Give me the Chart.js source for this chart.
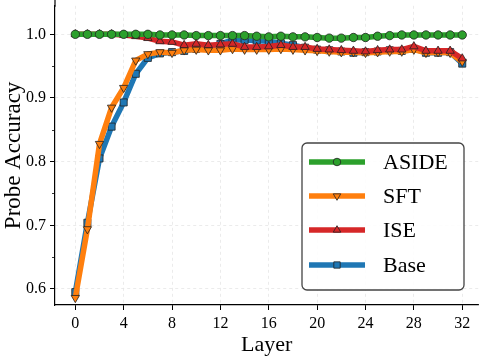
<!DOCTYPE html>
<html>
<head>
<meta charset="utf-8">
<script src="https://cdn.jsdelivr.net/npm/chart.js@4.4.1/dist/chart.umd.min.js"></script>
<style>
  html, body { margin: 0; padding: 0; background: #fff; }
  #wrap { width: 484px; height: 358px; }
</style>
</head>
<body>
<div id="wrap"><canvas id="probeChart"></canvas></div>
<script>
// Layers 0..32
var layers = [];
for (var i = 0; i <= 32; i++) layers.push(i);

var aside = [1.000, 1.000, 1.000, 1.000, 1.000, 1.000, 1.000, 0.999, 0.999, 0.999,
  0.998, 0.998, 0.998, 0.998, 0.998, 0.997, 0.996, 0.997, 0.996, 0.996,
  0.995, 0.994, 0.994, 0.995, 0.995, 0.997, 0.998, 0.999, 0.999, 0.999,
  0.999, 0.999, 0.999];
var sft = [0.586, 0.694, 0.828, 0.885, 0.916, 0.959, 0.969, 0.972, 0.971, 0.975,
  0.976, 0.975, 0.975, 0.977, 0.976, 0.976, 0.976, 0.977, 0.976, 0.975,
  0.974, 0.973, 0.972, 0.972, 0.971, 0.972, 0.973, 0.973, 0.976, 0.971,
  0.972, 0.971, 0.957];
var ise = [1.000, 1.000, 1.000, 1.000, 0.999, 0.997, 0.994, 0.989, 0.988, 0.983,
  0.985, 0.983, 0.984, 0.985, 0.980, 0.980, 0.981, 0.983, 0.980, 0.980,
  0.977, 0.976, 0.975, 0.974, 0.973, 0.975, 0.976, 0.976, 0.981, 0.974,
  0.974, 0.974, 0.962];
var base = [0.595, 0.704, 0.805, 0.855, 0.893, 0.938, 0.963, 0.970, 0.972, 0.974,
  0.977, 0.980, 0.985, 0.991, 0.991, 0.990, 0.989, 0.986, 0.983, 0.979,
  0.976, 0.975, 0.973, 0.971, 0.972, 0.973, 0.975, 0.974, 0.977, 0.971,
  0.971, 0.972, 0.954];

var seriesNames = ['ASIDE', 'SFT', 'ISE', 'Base'];
var minorYTicks = [0.65, 0.75, 0.85, 0.95];
var FONT = '"Liberation Serif", "Times New Roman", serif';

function pts(arr) {
  return arr.map(function (v, i) { return { x: layers[i], y: v }; });
}

function makeSet(label, arr, color, style, rot, radius, order) {
  return {
    label: label,
    data: pts(arr),
    borderColor: color,
    backgroundColor: color,
    borderWidth: 5.5,
    tension: 0,
    pointStyle: style,
    pointRotation: rot,
    pointRadius: radius,
    pointBackgroundColor: color,
    pointBorderColor: '#222',
    pointBorderWidth: 0.8,
    order: order
  };
}

var datasets = [
  makeSet(seriesNames[0], aside, '#2ca02c', 'circle', 0, 4.2, 0),
  makeSet(seriesNames[1], sft, '#ff7f0e', 'triangle', 180, 4.8, 2),
  makeSet(seriesNames[2], ise, '#d62728', 'triangle', 0, 4.8, 1),
  makeSet(seriesNames[3], base, '#1f77b4', 'rect', 0, 5, 3)
];

// minor ticks on the y axis, and the left spine carried up to the top
var minorTicks = {
  id: 'minorTicks',
  afterDraw: function (chart) {
    var ys = chart.scales.y;
    var ctx = chart.ctx;
    ctx.save();
    ctx.strokeStyle = '#000';
    ctx.lineWidth = 0.8;
    minorYTicks.forEach(function (v) {
      var py = Math.round(ys.getPixelForValue(v)) + 0.5;
      ctx.beginPath();
      ctx.moveTo(ys.right - 3, py);
      ctx.lineTo(ys.right, py);
      ctx.stroke();
    });
    ctx.lineWidth = 1.2;
    ctx.beginPath();
    ctx.moveTo(ys.right, 0);
    ctx.lineTo(ys.right, chart.chartArea.top + 1);
    ctx.stroke();
    ctx.restore();
  }
};

// legend drawn inside the plot, like matplotlib's
var boxLegend = {
  id: 'boxLegend',
  afterDraw: function (chart) {
    var ctx = chart.ctx;
    var x0 = 302, y0 = 143, w = 162, h = 147, r = 5;
    ctx.save();
    ctx.beginPath();
    ctx.roundRect(x0, y0, w, h, r);
    ctx.fillStyle = 'rgba(255,255,255,0.9)';
    ctx.fill();
    ctx.lineWidth = 1.3;
    ctx.strokeStyle = '#444';
    ctx.stroke();
    var rowY = [162, 196, 230, 265];
    datasets.forEach(function (ds, k) {
      var y = rowY[k];
      ctx.beginPath();
      ctx.moveTo(309, y);
      ctx.lineTo(365, y);
      ctx.lineWidth = 5.5;
      ctx.strokeStyle = ds.borderColor;
      ctx.stroke();
      ctx.fillStyle = ds.pointBackgroundColor;
      ctx.strokeStyle = ds.pointBorderColor;
      ctx.lineWidth = ds.pointBorderWidth;
      Chart.helpers.drawPoint(ctx, {
        pointStyle: ds.pointStyle,
        rotation: ds.pointRotation,
        radius: ds.pointRadius * 0.9,
        borderWidth: ds.pointBorderWidth
      }, 337, y);
      ctx.fillStyle = '#000';
      ctx.font = '22px ' + FONT;
      ctx.textBaseline = 'middle';
      ctx.textAlign = 'left';
      ctx.fillText(ds.label, 383, y + 1);
    });
    ctx.restore();
  }
};

var ctx = document.getElementById('probeChart').getContext('2d');
new Chart(ctx, {
  type: 'line',
  data: { datasets: datasets },
  plugins: [minorTicks, boxLegend],
  options: {
    responsive: true,
    maintainAspectRatio: false,
    animation: false,
    layout: { padding: { top: 1, right: 2, left: 0, bottom: 0 } },
    plugins: {
      legend: { display: false },
      tooltip: { enabled: false }
    },
    scales: {
      x: {
        type: 'linear',
        min: -1.68,
        max: 33.32,
        afterFit: function (s) { s.height = 53; s.paddingLeft = 0; s.paddingRight = 0; },
        ticks: {
          stepSize: 4,
          includeBounds: false,
          color: '#000',
          padding: 4,
          font: { family: FONT, size: 16 },
          callback: function (v) { return v; }
        },
        grid: {
          color: '#e6e6e6',
          lineWidth: 0.8,
          tickColor: '#000',
          tickLength: 5,
          tickWidth: 1
        },
        border: { color: '#000', width: 1.2, dash: [3, 3] },
        title: {
          display: true,
          text: 'Layer',
          color: '#000',
          font: { family: FONT, size: 22 },
          padding: { top: 0, bottom: 0 }
        }
      },
      y: {
        min: 0.5748,
        max: 1.0448,
        afterFit: function (s) { s.width = 55; s.paddingTop = 0; s.paddingBottom = 0; },
        ticks: {
          stepSize: 0.1,
          includeBounds: false,
          color: '#000',
          padding: 4,
          font: { family: FONT, size: 16 },
          callback: function (v) { return v.toFixed(1); }
        },
        grid: {
          color: '#e6e6e6',
          lineWidth: 0.8,
          tickColor: '#000',
          tickLength: 5,
          tickWidth: 1
        },
        border: { color: '#000', width: 1.2, dash: [3, 3] },
        title: {
          display: true,
          text: 'Probe Accuracy',
          color: '#000',
          font: { family: FONT, size: 23 },
          padding: { top: 0, bottom: 0 }
        }
      }
    }
  }
});
</script>
</body>
</html>
